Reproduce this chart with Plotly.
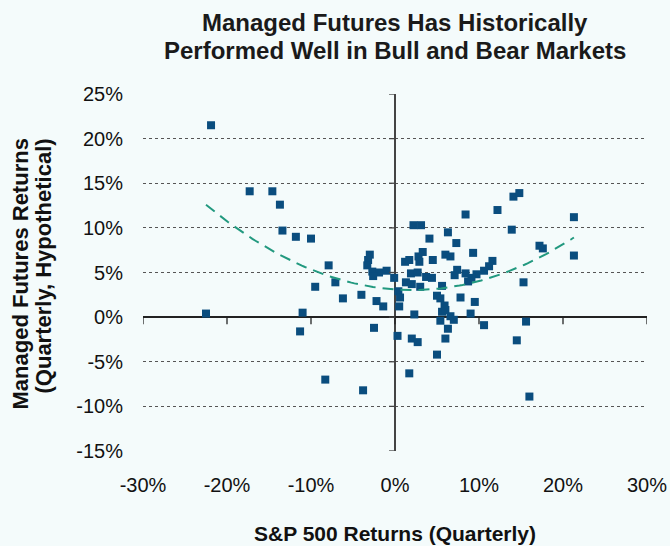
import numpy as np
import plotly.graph_objects as go

# S&P 500 quarterly return (%) vs managed futures quarterly return (%)
sp500 = [-21.9, -17.3, -14.6, -13.7, -13.4, -11.8, -10.0, -7.9, -22.5, -11.0,
         -11.3, -9.5, -7.1, -6.2, -4.0, -2.2, -1.4, -2.5, -8.3, -3.8,
         -3.0, -3.2, -3.3, -2.7, -1.9, -1.0, -2.6, -0.1, 0.3, 0.4,
         0.6, 0.5, 2.3, 2.0, 2.7, 1.3, 2.0, 1.9, 2.7, 3.7,
         4.4, 1.2, 1.7, 2.8, 2.9, 3.3, 2.2, 3.1, 4.1, 6.3,
         7.3, 8.4, 12.2, 14.1, 14.8, 13.9, 21.3, 17.2, 17.6, 21.3,
         9.3, 6.0, 6.6, 4.5, 11.6, 11.2, 10.6, 9.7, 8.4, 7.4,
         7.1, 9.1, 8.7, 15.3, 3.0, 5.6, 5.0, 5.4, 7.8, 9.5,
         5.9, 5.6, 9.0, 6.6, 7.0, 5.4, 6.3, 10.6, 15.6, 6.0,
         14.5, 5.0, 1.7, 16.0, 6.0]
managed_futures = [21.5, 14.1, 14.1, 12.6, 9.7, 9.0, 8.8, 5.8, 0.4, 0.5,
                   -1.6, 3.4, 3.9, 2.1, 2.5, 1.8, 1.2, -1.2, -7.0, -8.2,
                   7.0, 6.4, 5.8, 5.1, 5.0, 5.2, 4.6, 4.4, -2.1, 2.9,
                   2.2, 1.2, 0.3, -2.4, -2.8, 3.9, 3.7, 4.9, 5.0, 4.5,
                   4.4, 6.2, 6.4, 6.8, 6.2, 7.3, 10.3, 10.3, 8.8, 9.5,
                   8.3, 11.5, 12.0, 13.5, 13.9, 9.8, 11.2, 8.0, 7.7, 6.9,
                   7.2, 7.0, 6.8, 6.4, 6.3, 5.7, 5.2, 4.8, 4.9, 5.3,
                   4.7, 4.4, 4.0, 3.9, 3.4, 3.5, 2.4, 2.1, 2.2, 1.7,
                   1.3, 0.6, 0.4, 0.1, -0.3, -0.4, -1.3, -0.9, -0.5, -2.4,
                   -2.6, -4.2, -6.3, -8.9, 0.8]

x_ticks = [-30, -20, -10, 0, 10, 20, 30]
y_ticks = [-15, -10, -5, 0, 5, 10, 15, 20, 25]

title_lines = ["Managed Futures Has Historically",
               "Performed Well in Bull and Bear Markets"]
y_title_lines = ["Managed Futures Returns", "(Quarterly, Hypothetical)"]
x_title = "S&P 500 Returns (Quarterly)"

BG = "#F4FBFB"
MARK = "#0A4D7E"
TREND = "#22997F"
TXT = "#111111"

x = np.array(sp500)
y = np.array(managed_futures)
coef = np.polyfit(x, y, 2)
xt = np.linspace(x.min(), x.max(), 120)
yt = np.polyval(coef, xt)

fig = go.Figure()
fig.add_trace(go.Scatter(x=x, y=y, mode="markers",
                         marker=dict(symbol="square", size=8, color=MARK,
                                     line=dict(width=0)),
                         showlegend=False, hoverinfo="x+y"))
fig.add_trace(go.Scatter(x=xt, y=yt, mode="lines",
                         line=dict(color=TREND, width=2, dash="11px,7px"),
                         showlegend=False, hoverinfo="skip"))

shapes = []
for xv in x_ticks:
    shapes.append(dict(type="line", xref="x", yref="y", ysizemode="pixel",
                       yanchor=0, x0=xv, x1=xv, y0=0, y1=-7,
                       line=dict(color="#222222", width=1.3)))
for yv in y_ticks:
    shapes.append(dict(type="line", xref="x", yref="y", xsizemode="pixel",
                       xanchor=0, x0=-6, x1=0, y0=yv, y1=yv,
                       line=dict(color="#444444", width=1.3)))

font_main = "Liberation Sans, Arial, sans-serif"

annotations = [
    dict(text=f"<b>{title_lines[0]}</b>", xref="paper", yref="paper",
         x=0.5, y=1, yshift=72, xanchor="center", yanchor="middle",
         showarrow=False, font=dict(size=24, color="#1a1a1a")),
    dict(text=f"<b>{title_lines[1]}</b>", xref="paper", yref="paper",
         x=0.5, y=1, yshift=44, xanchor="center", yanchor="middle",
         showarrow=False, font=dict(size=24, color="#1a1a1a")),
    dict(text=f"<b>{x_title}</b>", xref="paper", yref="paper",
         x=0.5, y=0, yshift=-82, xanchor="center", yanchor="middle",
         showarrow=False, font=dict(size=21, color=TXT)),
    dict(text=f"<b>{y_title_lines[0]}</b>", xref="paper", yref="paper",
         x=0, y=0.5, xshift=-123, yshift=-2, xanchor="center", yanchor="middle",
         textangle=-90, showarrow=False, font=dict(size=22, color=TXT)),
    dict(text=f"<b>{y_title_lines[1]}</b>", xref="paper", yref="paper",
         x=0, y=0.5, xshift=-100, yshift=6, xanchor="center", yanchor="middle",
         textangle=-90, showarrow=False, font=dict(size=22, color=TXT)),
]

fig.update_layout(
    width=670, height=546, autosize=False,
    margin=dict(l=143, r=23, t=94, b=95),
    paper_bgcolor=BG, plot_bgcolor=BG,
    font=dict(family=font_main, size=20, color=TXT),
    xaxis=dict(range=[-30, 30], tickvals=x_ticks,
               ticktext=[f"{v}%" for v in x_ticks], automargin=False,
               showgrid=False, zeroline=True, zerolinecolor="#444444",
               zerolinewidth=1.5, showline=False,
               ticks="outside", ticklen=16, tickcolor="rgba(0,0,0,0)",
               tickfont=dict(size=20)),
    yaxis=dict(range=[-15, 25], tickvals=y_ticks,
               ticktext=[f"{v}%" for v in y_ticks], automargin=False,
               showgrid=True, gridcolor="#555555", gridwidth=1.2,
               griddash="3px,3px",
               zeroline=True, zerolinecolor="#222222", zerolinewidth=1.5,
               showline=False,
               ticks="outside", ticklen=15, tickcolor="rgba(0,0,0,0)",
               tickfont=dict(size=20)),
    shapes=shapes,
    annotations=annotations,
)

fig.write_html(
    "out.html",
    config={"responsive": False, "displayModeBar": False},
    post_script="document.body.style.margin='0';document.body.style.overflow='hidden';"
                "document.body.style.background='" + BG + "';",
)
